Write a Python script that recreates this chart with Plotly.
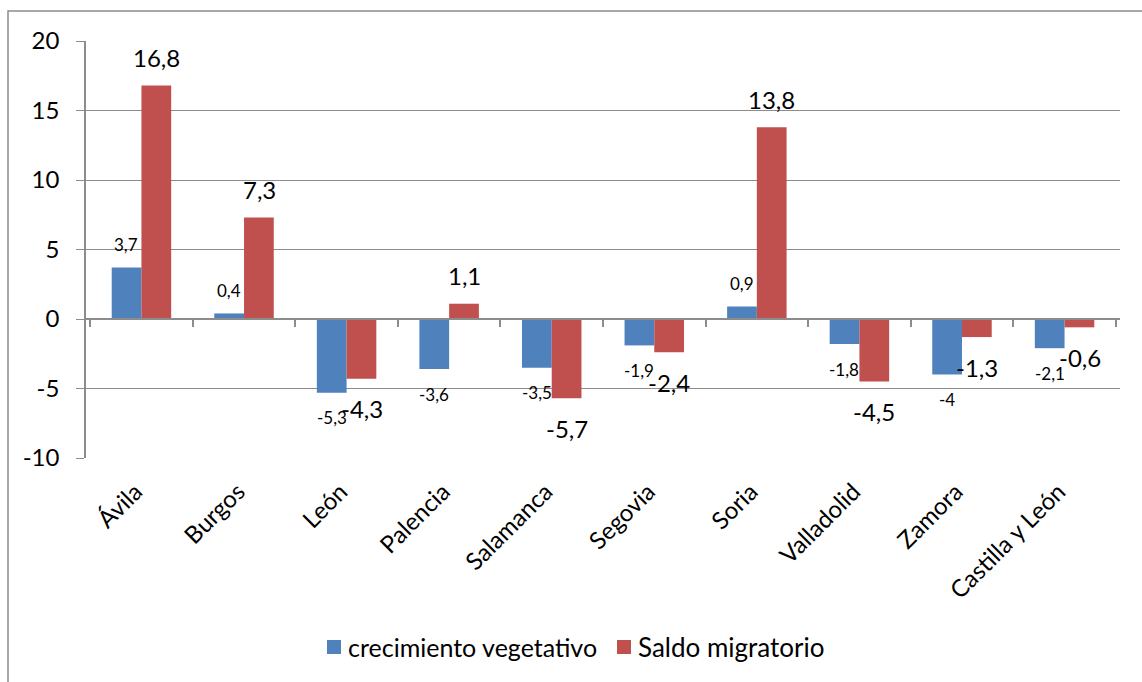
import plotly.graph_objects as go

categories = ["Ávila", "Burgos", "León", "Palencia", "Salamanca", "Segovia",
              "Soria", "Valladolid", "Zamora", "Castilla y León"]
crecimiento = [3.7, 0.4, -5.3, -3.6, -3.5, -1.9, 0.9, -1.8, -4, -2.1]
saldo = [16.8, 7.3, -4.3, 1.1, -5.7, -2.4, 13.8, -4.5, -1.3, -0.6]
series_names = ["crecimiento vegetativo", "Saldo migratorio"]
y_tickvals = [-10, -5, 0, 5, 10, 15, 20]
y_ticktext = ["-10", "-5", "0", "5", "10", "15", "20"]

BLUE = "#4F81BD"
RED = "#C0504D"
GRID = "#8C8C8C"
FONT = "Lato"

W, H = 1142, 682
L, R, T, B = 86, 22, 41, 224
plot_w = W - L - R
plot_h = H - T - B
cat_w = plot_w / len(categories)
bargap = 0.42
bar_w = (1 - bargap) * cat_w / 2


def fmt(v):
    return ("%g" % v).replace(".", ",")


def px(x):
    return (x - L) / plot_w


def py(y):
    return (H - B - y) / plot_h


fig = go.Figure()
fig.add_trace(go.Bar(x=categories, y=crecimiento, name=series_names[0],
                     marker=dict(color=BLUE, line=dict(width=0)), showlegend=False))
fig.add_trace(go.Bar(x=categories, y=saldo, name=series_names[1],
                     marker=dict(color=RED, line=dict(width=0)), showlegend=False))
# invisible trace for the zero-line category axis
fig.add_trace(go.Scatter(x=categories, y=[0] * len(categories), xaxis="x2",
                         mode="markers", marker=dict(opacity=0), showlegend=False,
                         hoverinfo="skip"))

annotations = []
for c, v in zip(categories, crecimiento):
    annotations.append(dict(x=c, y=v, xref="x", yref="y", text=fmt(v), showarrow=False,
                            xshift=-bar_w / 2, yshift=23 if v >= 0 else -25,
                            font=dict(family=FONT, size=17, color="black")))
for c, v in zip(categories, saldo):
    annotations.append(dict(x=c, y=v, xref="x", yref="y", text=fmt(v), showarrow=False,
                            xshift=bar_w / 2, yshift=28 if v >= 0 else -30,
                            font=dict(family=FONT, size=24, color="black")))

# manual legend
legend_items = [(series_names[0], BLUE, 327, 25), (series_names[1], RED, 617, 26)]
shapes = []
for name, col, x0, fs in legend_items:
    shapes.append(dict(type="rect", xref="paper", yref="paper",
                       x0=px(x0), x1=px(x0 + 14), y0=py(654), y1=py(640),
                       line=dict(width=0), fillcolor=col))
    annotations.append(dict(x=px(x0 + 19), y=py(647), xref="paper", yref="paper",
                            text=name, showarrow=False, xanchor="left", yanchor="middle",
                            font=dict(family=FONT, size=fs, color="black")))

shapes.append(dict(type="rect", xref="paper", yref="paper",
                   x0=px(8), x1=1.2, y0=-1.0, y1=py(11),
                   line=dict(color=GRID, width=1.5), fillcolor="rgba(0,0,0,0)", layer="below"))

fig.update_layout(
    width=W, height=H,
    margin=dict(l=L, r=R, t=T, b=B, pad=0),
    paper_bgcolor="white", plot_bgcolor="white",
    barmode="group", bargap=bargap, bargroupgap=0,
    font=dict(family=FONT, color="black"),
    xaxis=dict(showline=False, showgrid=False, ticks="", tickangle=-45,
               ticklabelstandoff=14, ticklabelshift=-6,
               tickfont=dict(family=FONT, size=24, color="black"), zeroline=False),
    xaxis2=dict(overlaying="x", matches="x", anchor="free", position=1 / 3,
                showline=True, linecolor=GRID, linewidth=1.5, ticks="outside",
                tickson="boundaries", ticklen=7, tickcolor=GRID, tickwidth=1.5,
                showticklabels=False, showgrid=False, zeroline=False),
    yaxis=dict(range=[-10, 20], tickvals=y_tickvals, ticktext=y_ticktext,
               showgrid=True, gridcolor=GRID, gridwidth=1.3,
               showline=True, linecolor=GRID, linewidth=1.5,
               ticks="outside", ticklen=8, tickcolor=GRID, tickwidth=1.3,
               ticklabelstandoff=12,
               zeroline=False, tickfont=dict(family=FONT, size=24, color="black")),
    showlegend=False,
    annotations=annotations,
    shapes=shapes,
)

fig.write_html("out.html", config={"displayModeBar": False},
               post_script="document.body.style.margin='0';document.body.style.padding='0';")
